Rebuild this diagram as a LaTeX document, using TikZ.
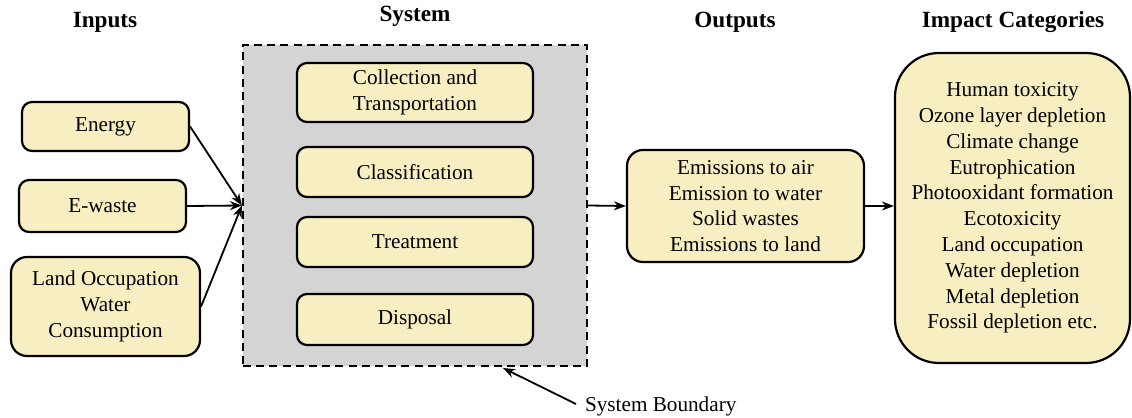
\documentclass[tikz,border=0pt]{standalone}
\usepackage{fontspec}
\setmainfont{Liberation Serif}
\newfontfamily\diagfont{Liberation Serif}
\usepackage{tikz}
\usetikzlibrary{arrows.meta}
\usetikzlibrary{positioning}

\definecolor{boxfill}{HTML}{F7EFC2}
\definecolor{sysfill}{HTML}{D4D4D4}

\tikzset{
  box/.style={draw, line width=1.1pt, fill=boxfill, rounded corners=5pt,
    align=center, inner sep=0pt, font=\diagfont\fontsize{10.6}{12.9}\selectfont},
  boundary/.style={draw, line width=1.1pt, fill=sysfill,
    dash pattern=on 4pt off 2.6pt, inner sep=0pt},
  heading/.style={font=\diagfont\fontsize{11.6}{14}\selectfont\bfseries},
  flow/.style={-{Stealth[length=6pt,width=4.5pt]}, line width=0.9pt},
}

\begin{document}
\begin{tikzpicture}[x=0.5pt, y=-0.5pt]
  \useasboundingbox (0,0) rectangle (1132,418);

  % column headings
  \node[heading] (hin)  at (105,22)  {Inputs};
  \node[heading] (hsys) at (415,16)  {System};
  \node[heading] (hout) at (735,22)  {Outputs};
  \node[heading] (himp) at (1013,22) {Impact Categories};

  % inputs
  \node[box, minimum width=83.5pt, minimum height=24.5pt] (energy) at (105.5,126.5) {Energy};
  \node[box, minimum width=83.5pt, minimum height=26pt]   (ewaste) at (102.5,206)   {E-waste};
  \node[box, minimum width=94.5pt, minimum height=49.5pt, rounded corners=8pt] (landwater) at (105.5,306.5)
    {Land Occupation\\Water\\Consumption};

  % system boundary and stages
  \node[boundary, minimum width=172pt, minimum height=160.5pt] (sys) at (415,205.5) {};
  \node[box, minimum width=118pt, minimum height=29.5pt] (collect)  at (415,92.5)  {Collection and\\Transportation};
  \node[box, minimum width=118pt, minimum height=25pt]   (classify) at (415,172)   {Classification};
  \node[box, minimum width=118pt, minimum height=25pt]   (treat)    at (415,242)   {Treatment};
  \node[box, minimum width=118pt, minimum height=25.5pt] (dispose)  at (415,319.5) {Disposal};

  % outputs and impacts
  \node[box, minimum width=118.5pt, minimum height=56pt, rounded corners=8pt] (outputs) at (745.5,206)
    {Emissions to air\\Emission to water\\Solid wastes\\Emissions to land};
  \node[box, minimum width=117.5pt, minimum height=155pt, rounded corners=22pt] (impact) at (1012.5,208)
    {Human toxicity\\Ozone layer depletion\\Climate change\\Eutrophication\\Photooxidant formation\\
     Ecotoxicity\\Land occupation\\Water depletion\\Metal depletion\\Fossil depletion etc.};

  % boundary label
  \node[font=\diagfont\fontsize{10.6}{13}\selectfont, anchor=west] (sblabel) at (578,406) {System Boundary};
  \coordinate (sbtip) at (503,368);

  \draw[flow] (energy.east) -- (sys.west);
  \draw[flow] (ewaste.east) -- (sys.west);
  \draw[flow] (landwater.east) -- (sys.west);
  \draw[flow] (sys.east) -- (outputs.west);
  \draw[flow] (outputs.east) -- (impact.west |- outputs.east);
  \draw[flow] (sblabel.west) ++(-2,-2) -- (sbtip);
\end{tikzpicture}
\end{document}
